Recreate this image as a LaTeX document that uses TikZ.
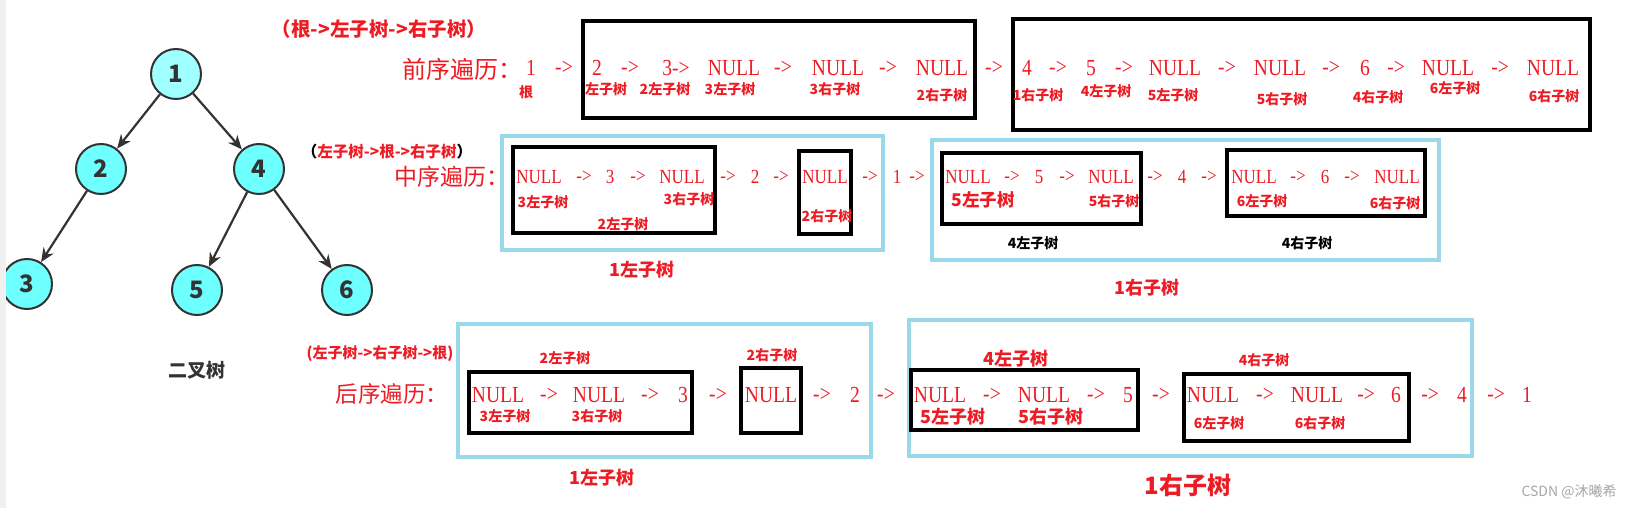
\documentclass[tikz,border=0pt]{standalone}
\usepackage{fontspec}
\setmainfont{Liberation Serif}
\newfontfamily\cjk{Noto Sans CJK SC}
\newfontfamily\seqfont{Liberation Serif}[FakeStretch=0.85]
\usetikzlibrary{arrows.meta,positioning}
\definecolor{paintred}{RGB}{237,28,36}
\definecolor{paintblue}{RGB}{153,217,234}
\definecolor{treegray}{RGB}{51,51,51}
\definecolor{treecyan}{RGB}{110,255,255}
\definecolor{treecyanlt}{RGB}{160,255,255}
\newcommand{\fsz}[1]{\fontsize{#1}{#1}\selectfont}

\begin{document}
\begin{tikzpicture}[x=1pt, y=-1pt,
  tnode/.style={circle, draw=treegray, line width=2pt, fill=treecyan, minimum size=50pt, inner sep=0, font=\cjk\bfseries\fsz{24}, text=treegray},
  tedge/.style={-{Stealth[length=14pt,width=12pt]}, line width=2.2pt, draw=treegray},
  seq/.style={inner sep=0, text=paintred},
  lbl/.style={inner sep=0, text=paintred, font=\cjk\bfseries\fsz{14}},
  biglbl/.style={lbl, font=\cjk\bfseries\fsz{18}},
  head/.style={inner sep=0, text=paintred, font=\cjk\fsz{23}},
  blackbox/.style={draw=black, line width=4.5pt},
  bluebox/.style={draw=paintblue, line width=4.5pt}]
\useasboundingbox (0,0) rectangle (1635,508);

% the tree
\node (n1) [tnode, fill=treecyanlt] at (176,74) {1};
\node (n2) [tnode] at (101,169) {2};
\node (n4) [tnode] at (259,169) {4};
\node (n3) [tnode] at (27,284) {3};
\node (n5) [tnode] at (197,290) {5};
\node (n6) [tnode] at (347,290) {6};
\node (treename) [font=\cjk\bfseries\fsz{19}, text=treegray] at (197,370) {二叉树};
\path [tedge] (n1) edge (n2) (n1) edge (n4) (n2) edge (n3) (n4) edge (n5) (n4) edge (n6);
\fill [gray!12] (0,0) rectangle (6,508);

% subtree boxes
\draw [blackbox] (583,21) rectangle (975,118);
\draw [blackbox] (1013,19) rectangle (1590,130);
\draw [bluebox] (502,136) rectangle (883,250);
\draw [bluebox] (932,140) rectangle (1439,260);
\draw [blackbox] (513,147) rectangle (715,233);
\draw [blackbox] (799,151) rectangle (851,234);
\draw [blackbox] (942,153) rectangle (1141,224);
\draw [blackbox] (1227,150) rectangle (1425,216);
\draw [bluebox] (458,324) rectangle (871,457);
\draw [bluebox] (909,320) rectangle (1472,456);
\draw [blackbox] (469,372) rectangle (692,433);
\draw [blackbox] (741,368) rectangle (801,433);
\draw [blackbox] (911,370) rectangle (1138,430);
\draw [blackbox] (1184,374) rectangle (1409,441);

% preorder
\node (prerule) [lbl, font=\cjk\bfseries\fsz{19.5}] at (379,29) {（根->左子树->右子树）};
\node (prehead) [head, font=\cjk\fsz{24}] at (462,69) {前序遍历：};
\foreach \x/\t [count=\i] in {531/1, 564/->, 597/2, 630/->, 676/3->, 734/NULL, 783/->, 838/NULL, 888/->, 942/NULL, 994/->,
    1027/4, 1058/->, 1091/5, 1124/->, 1175/NULL, 1227/->, 1280/NULL, 1331/->, 1365/6, 1396/->, 1448/NULL, 1500/->, 1553/NULL}
  \node (pre\i) [seq, font=\seqfont\fsz{23}] at (\x,68) {\t};
\foreach \x/\y/\t [count=\i] in {526/92/根, 606/89/左子树, 665/89/2左子树, 730/89/3左子树, 835/89/3右子树, 942/95/2右子树,
    1038/95/1右子树, 1106/91/4左子树, 1173/95/5左子树, 1282/99/5右子树, 1378/97/4右子树, 1455/88/6左子树, 1554/96/6右子树}
  \node (prelbl\i) [lbl] at (\x,\y) {\t};

% inorder
\node (inrule) [lbl, font=\cjk\bfseries\fsz{15.5}] at (387,152) {{\color{black}（}左子树->根->右子树{\color{black}）}};
\node (inhead) [head] at (452,177) {中序遍历：};
\foreach \x/\t [count=\i] in {539/NULL, 584/->, 610/3, 638/->, 682/NULL, 728/->, 755/2, 781/->, 825/NULL, 870/->, 897/1, 917/->,
    968/NULL, 1012/->, 1039/5, 1067/->, 1111/NULL, 1155/->, 1182/4, 1209/->, 1254/NULL, 1298/->, 1325/6, 1352/->, 1397/NULL}
  \node (in\i) [seq, font=\seqfont\fsz{20}] at (\x,177) {\t};
\foreach \x/\y/\t [count=\i] in {543/202/3左子树, 689/199/3右子树, 623/224/2左子树, 827/216/2右子树,
    1114/201/5右子树, 1262/201/6左子树, 1395/203/6右子树}
  \node (inlbl\i) [lbl] at (\x,\y) {\t};
\node (in5l) [biglbl, font=\cjk\bfseries\fsz{17.5}] at (983,200) {5左子树};
\node (in4l) [lbl, text=black] at (1033,243) {4左子树};
\node (in4r) [lbl, text=black] at (1307,243) {4右子树};
\node (in1l) [biglbl] at (642,270) {1左子树};
\node (in1r) [biglbl] at (1147,288) {1右子树};

% postorder
\node (postrule) [lbl, font=\cjk\bfseries\fsz{15}] at (380,354) {(左子树->右子树->根)};
\node (posthead) [head, font=\cjk\fsz{22.5}] at (392,394) {后序遍历：};
\foreach \x/\t [count=\i] in {498/NULL, 549/->, 599/NULL, 650/->, 683/3, 718/->, 771/NULL, 822/->, 855/2, 886/->,
    940/NULL, 992/->, 1044/NULL, 1096/->, 1128/5, 1161/->, 1213/NULL, 1265/->, 1317/NULL, 1366/->, 1396/6, 1430/->, 1462/4, 1496/->, 1527/1}
  \node (post\i) [seq, font=\seqfont\fsz{23}] at (\x,395) {\t};
\foreach \x/\y/\t [count=\i] in {505/416/3左子树, 597/416/3右子树, 565/358/2左子树, 772/355/2右子树,
    1264/360/4右子树, 1219/423/6左子树, 1320/423/6右子树}
  \node (postlbl\i) [lbl] at (\x,\y) {\t};
\foreach \x/\y/\t [count=\i] in {1016/359/4左子树, 953/417/5左子树, 1051/417/5右子树, 602/478/1左子树}
  \node (postbig\i) [biglbl] at (\x,\y) {\t};
\node (post1r) [biglbl, font=\cjk\bfseries\fsz{24}] at (1188,485) {1右子树};

\node (mark) [font=\cjk\fsz{14}, text=gray!70] at (1569,492) {CSDN @沐曦希};
\end{tikzpicture}
\end{document}
